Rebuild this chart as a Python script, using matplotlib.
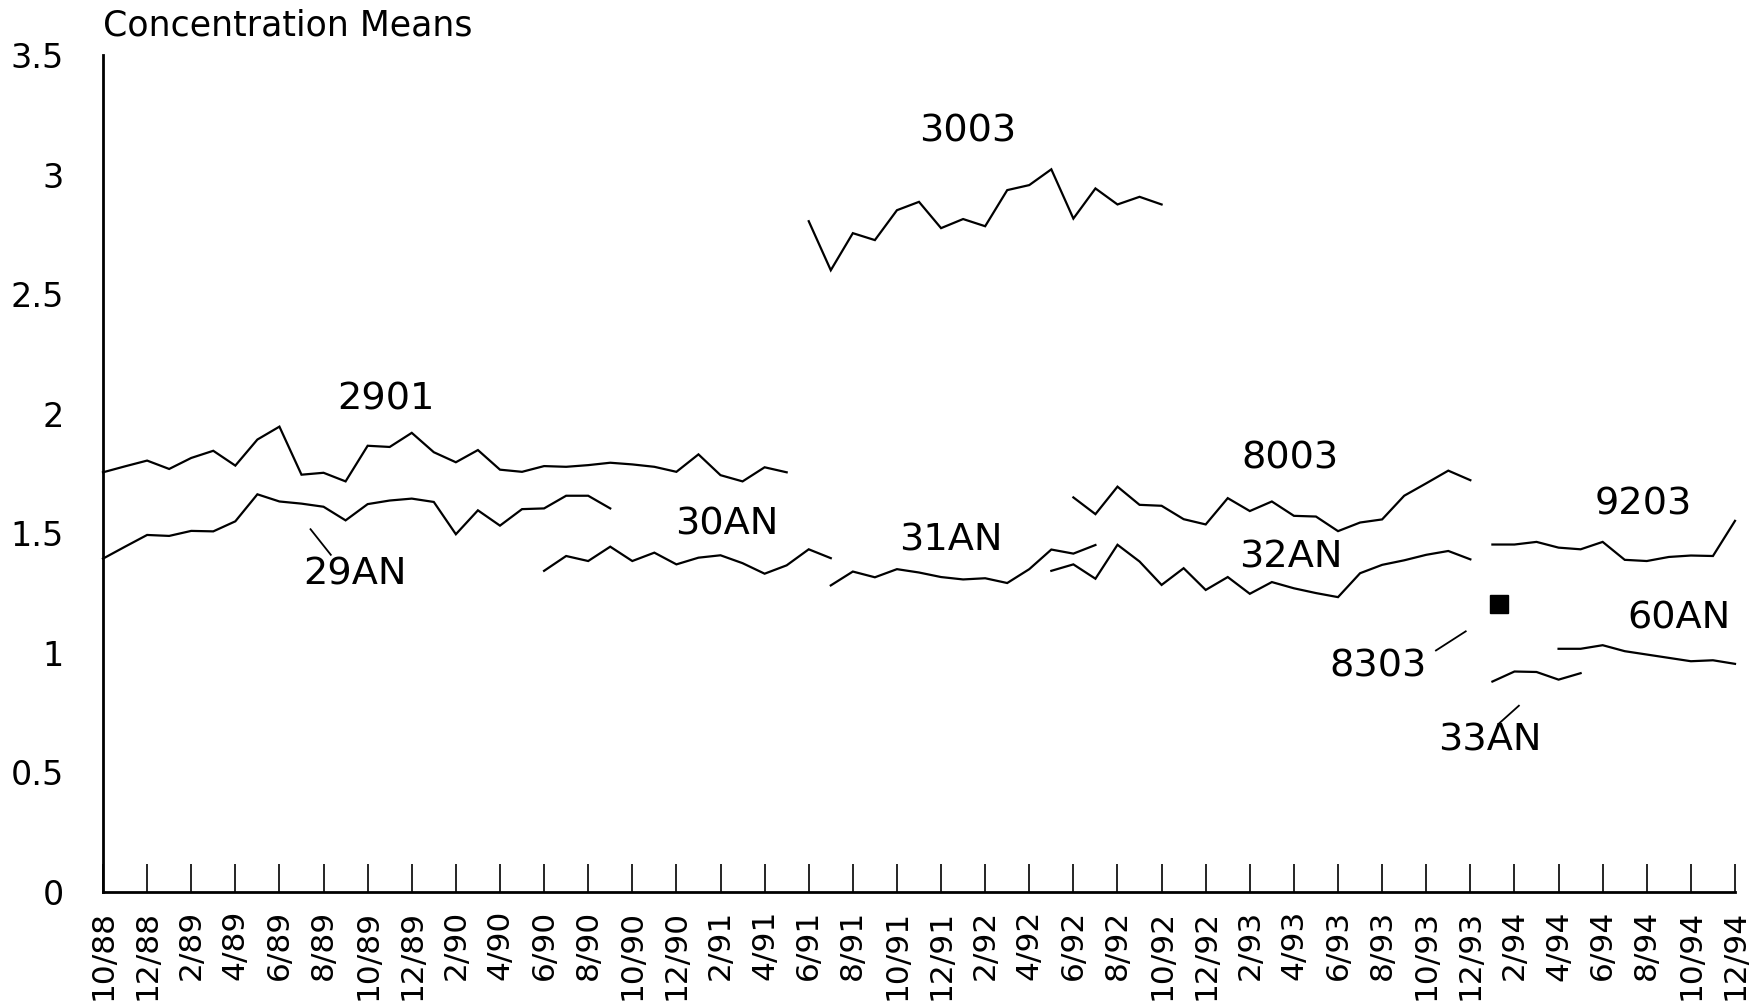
import matplotlib
matplotlib.use("Agg")
import matplotlib.pyplot as plt

# ---------------- data (month index: 0 = 10/88 ... 74 = 12/94) ----------------
x_2901 = list(range(0, 32))
y_2901 = [1.755, 1.780, 1.804, 1.769, 1.815, 1.845, 1.783, 1.892, 1.946, 1.745,
          1.753, 1.717, 1.866, 1.861, 1.920, 1.839, 1.797, 1.848, 1.766, 1.757,
          1.781, 1.778, 1.785, 1.795, 1.788, 1.778, 1.757, 1.830, 1.743, 1.717,
          1.776, 1.755]

x_29AN = list(range(0, 24))
y_29AN = [1.394, 1.444, 1.493, 1.489, 1.510, 1.508, 1.550, 1.663, 1.633, 1.624,
          1.611, 1.554, 1.622, 1.637, 1.645, 1.631, 1.496, 1.596, 1.532, 1.601,
          1.604, 1.657, 1.657, 1.604]

x_30AN = list(range(20, 34))
y_30AN = [1.343, 1.405, 1.384, 1.444, 1.384, 1.419, 1.370, 1.398, 1.408, 1.375,
          1.331, 1.366, 1.433, 1.396]

x_3003 = list(range(32, 49))
y_3003 = [2.805, 2.600, 2.755, 2.726, 2.851, 2.886, 2.776, 2.814, 2.784, 2.935,
          2.956, 3.022, 2.816, 2.942, 2.875, 2.907, 2.875]

x_31AN = list(range(33, 46))
y_31AN = [1.282, 1.340, 1.316, 1.350, 1.336, 1.317, 1.307, 1.312, 1.292, 1.350,
          1.432, 1.415, 1.451]

x_32AN = list(range(43, 63))
y_32AN = [1.343, 1.370, 1.310, 1.452, 1.382, 1.284, 1.354, 1.263, 1.317, 1.247,
          1.296, 1.270, 1.250, 1.233, 1.333, 1.368, 1.387, 1.410, 1.426, 1.391]

x_8003 = list(range(44, 63))
y_8003 = [1.650, 1.580, 1.695, 1.619, 1.615, 1.559, 1.537, 1.647, 1.593, 1.633,
          1.573, 1.570, 1.509, 1.545, 1.558, 1.657, 1.709, 1.762, 1.722]

x_9203 = list(range(63, 75))
y_9203 = [1.453, 1.453, 1.464, 1.440, 1.433, 1.464, 1.389, 1.384, 1.401, 1.407,
          1.405, 1.552]

x_60AN = list(range(66, 75))
y_60AN = [1.017, 1.017, 1.032, 1.007, 0.993, 0.979, 0.965, 0.969, 0.954]

x_33AN = list(range(63, 68))
y_33AN = [0.880, 0.922, 0.920, 0.888, 0.915]

x_8303 = [63.3]
y_8303 = [1.206]

# series labels: (text, month, value)
label_names = ["2901", "29AN", "30AN", "3003", "31AN", "8003", "32AN",
               "9203", "60AN", "8303", "33AN"]
label_x = [12.82, 11.42, 28.29, 39.23, 38.46, 53.80, 53.88, 69.82, 71.48, 57.80, 62.87]
label_y = [2.058, 1.329, 1.538, 3.180, 1.468, 1.811, 1.397, 1.621, 1.142, 0.944, 0.635]

# leader lines from labels to series
leader_x = [[9.41, 10.33], [60.44, 61.79], [63.28, 64.20]]
leader_y = [[1.517, 1.410], [1.010, 1.090], [0.703, 0.779]]

tick_months = list(range(0, 75, 2))
tick_labels = ["10/88", "12/88", "2/89", "4/89", "6/89", "8/89", "10/89", "12/89",
               "2/90", "4/90", "6/90", "8/90", "10/90", "12/90", "2/91", "4/91",
               "6/91", "8/91", "10/91", "12/91", "2/92", "4/92", "6/92", "8/92",
               "10/92", "12/92", "2/93", "4/93", "6/93", "8/93", "10/93", "12/93",
               "2/94", "4/94", "6/94", "8/94", "10/94", "12/94"]
ytick_vals = [0, 0.5, 1, 1.5, 2, 2.5, 3, 3.5]
ytick_labels = ["0", "0.5", "1", "1.5", "2", "2.5", "3", "3.5"]

# ---------------- plot ----------------
plt.rcParams['font.family'] = ['DejaVu Sans']

fig = plt.figure(figsize=(17.58, 10.08), dpi=100)
ax = fig.add_axes([103 / 1758, 116 / 1008, 1632 / 1758, 837 / 1008])

series = [(x_2901, y_2901), (x_29AN, y_29AN), (x_30AN, y_30AN), (x_3003, y_3003),
          (x_31AN, y_31AN), (x_32AN, y_32AN), (x_8003, y_8003), (x_9203, y_9203),
          (x_60AN, y_60AN), (x_33AN, y_33AN)]
for xs, ys in series:
    ax.plot(xs, ys, color="black", lw=1.6, clip_on=False, solid_joinstyle="miter")

ax.plot(x_8303, y_8303, ls="none", marker="s", ms=13.5, color="black", clip_on=False)

for lx, ly in zip(leader_x, leader_y):
    ax.plot(lx, ly, color="black", lw=1.3, clip_on=False)

for name, lx, ly in zip(label_names, label_x, label_y):
    ax.text(lx, ly, name, ha="center", va="center", fontsize=27.5, color="black")

ax.set_xlim(0, 74)
ax.set_ylim(0, 3.5)
for s in ("top", "right"):
    ax.spines[s].set_visible(False)
for s in ("left", "bottom"):
    ax.spines[s].set_linewidth(2.0)
    ax.spines[s].set_color("black")

ax.set_xticks(tick_months)
ax.set_xticklabels(tick_labels, rotation=90, fontsize=22.5)
ax.set_yticks(ytick_vals)
ax.set_yticklabels(ytick_labels, fontsize=24)
ax.tick_params(axis="x", direction="in", length=20, width=1.2, pad=13, color="black")
ax.tick_params(axis="y", length=0, pad=28)

fig.text(103 / 1758, 1 - 35 / 1008, "Concentration Means", ha="left", va="baseline",
         fontsize=25, color="black")

fig.savefig("out.png", dpi=100, facecolor="white")
